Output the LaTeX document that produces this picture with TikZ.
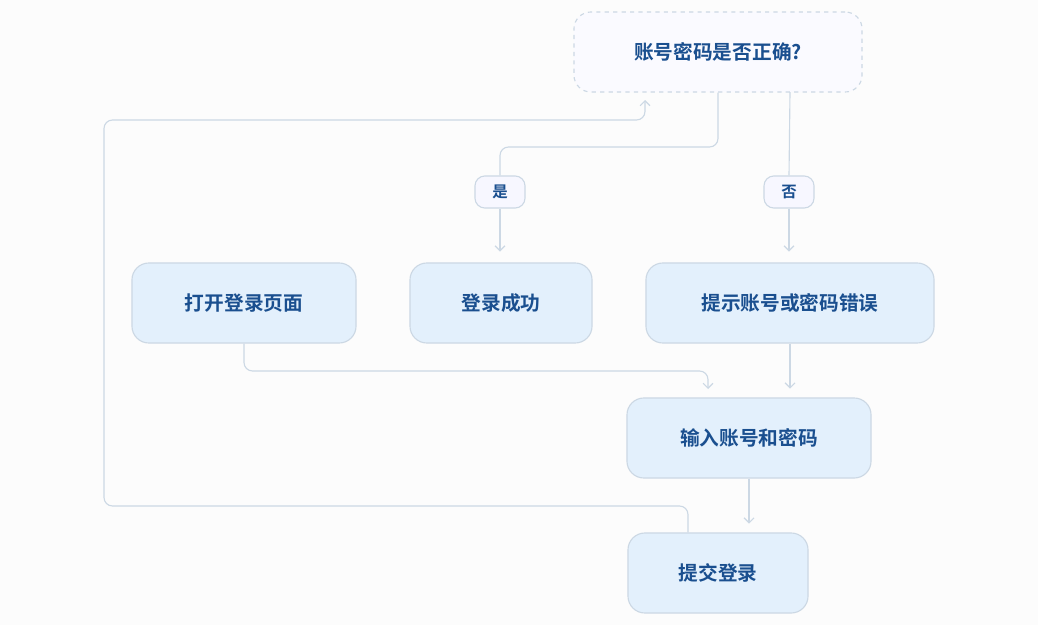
\documentclass[tikz,border=0pt]{standalone}
\usepackage{fontspec}
\newfontfamily\cjk{Noto Sans CJK SC}[BoldFont={Noto Sans CJK SC Bold}]
\usetikzlibrary{arrows.meta,positioning}
\definecolor{edgegray}{HTML}{CCD8E4}
\definecolor{boxfill}{HTML}{E3F0FC}
\definecolor{textblue}{HTML}{1A4F8F}
\definecolor{bgpaper}{HTML}{FCFCFC}
\tikzset{
  stage/.style={draw=edgegray, fill=boxfill, rounded corners=12pt, line width=0.8pt,
    text=textblue, font=\cjk\bfseries\fontsize{14}{16}\selectfont, minimum height=2cm},
  check/.style={stage, dashed, fill=blue!2},
  tag/.style={draw=edgegray, fill=blue!3, rounded corners=7pt, line width=0.8pt,
    text=textblue, font=\cjk\bfseries\fontsize{11}{13}\selectfont,
    minimum width=1.25cm, minimum height=0.8cm},
  flow/.style={draw=edgegray, line width=0.8pt, rounded corners=6pt},
  arrow/.style={flow, -{Straight Barb[length=3.5pt,width=7pt]}}
}
\begin{document}
\begin{tikzpicture}[x=0.025cm, y=-0.025cm]
  \fill[bgpaper] (0,0) rectangle (1038,625);
  \useasboundingbox (0,0) rectangle (1038,625);
  \node[check, minimum width=7.2cm] (ok) at (718,52) {账号密码是否正确?};
  \node[stage, minimum width=5.6cm] (open) at (244,303) {打开登录页面};
  \node[stage, minimum width=4.55cm] (succ) at (501,303) {登录成功};
  \node[stage, minimum width=7.2cm] (err) at (790,303) {提示账号或密码错误};
  \node[stage, minimum width=6.1cm] (input) at (749,438) {输入账号和密码};
  \node[stage, minimum width=4.5cm] (submit) at (718,573) {提交登录};
  \node[tag] (yes) at (500,192) {是};
  \node[tag] (no) at (789,192) {否};
  % branches
  \draw[flow] (ok.south) |- (600,147) -| (yes.north);
  \draw[arrow] (yes.south) -- ++(0,43);
  \draw[flow] (790,92) -- (no.north);
  \draw[arrow] (no.south) -- ++(0,43);
  % main flow
  \draw[arrow] (open.south) |- (600,371) -| (708,389);
  \draw[arrow] (err.south) -- ++(0,45);
  \draw[arrow] (input.south) -- ++(0,45);
  \draw[arrow] (submit.north -| 688,0) |- (400,506) -| (104,300) |- (400,120) -| (645,100);
\end{tikzpicture}
\end{document}
